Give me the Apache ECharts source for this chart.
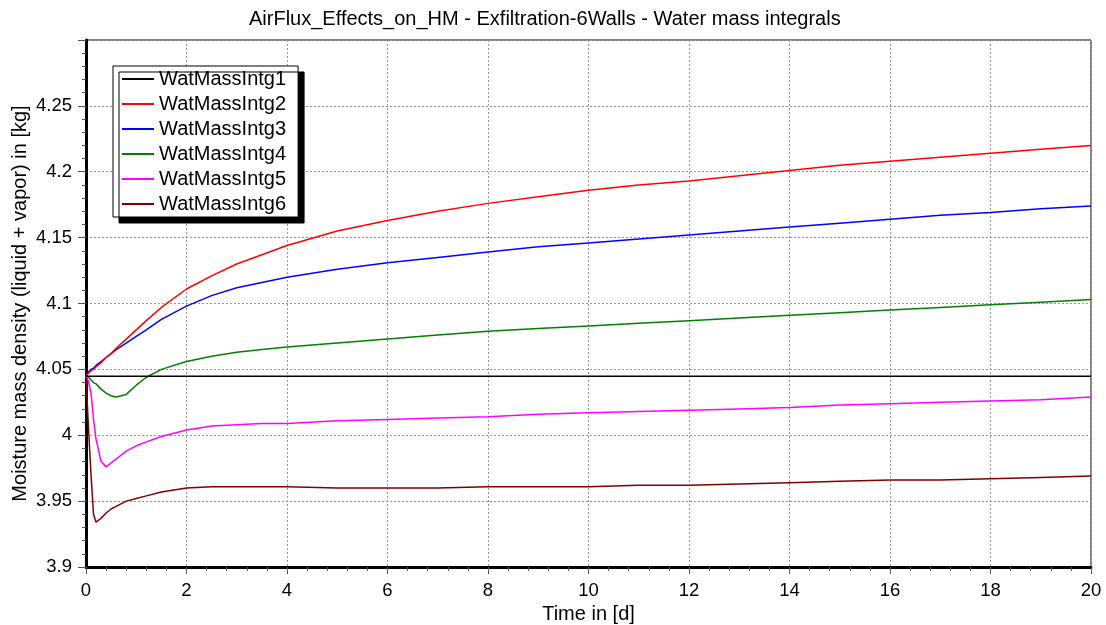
<!DOCTYPE html>
<html>
<head>
<meta charset="utf-8">
<title>Water mass integrals</title>
<script src="https://cdn.jsdelivr.net/npm/echarts@6/dist/echarts.min.js"></script>
<style>
  html, body { margin: 0; padding: 0; background: #fff; }
  #myChart { width: 1106px; height: 625px; }
</style>
</head>
<body>
<div id="myChart"></div>
<script>
// time in days
const times = [0, 0.05, 0.1, 0.15, 0.2, 0.3, 0.4, 0.5, 0.6, 0.8, 1, 1.2, 1.5, 2, 2.5, 3, 3.5, 4,
  5, 6, 7, 8, 9, 10, 11, 12, 13, 14, 15, 16, 17, 18, 19, 20]
// WatMassIntg1 is flat
const intg1Times = [0, 20]
const intg1 = [4.0447, 4.0447]
const intg2 = [4.045, 4.047, 4.049, 4.050, 4.052, 4.055, 4.059, 4.062, 4.066, 4.073, 4.080, 4.087,
  4.097, 4.111, 4.121, 4.130, 4.137, 4.144, 4.155, 4.163, 4.170, 4.176, 4.181, 4.186, 4.190, 4.193,
  4.197, 4.201, 4.205, 4.208, 4.211, 4.214, 4.217, 4.220]
const intg3 = [4.045, 4.048, 4.050, 4.051, 4.053, 4.056, 4.059, 4.062, 4.065, 4.070, 4.075, 4.080,
  4.088, 4.098, 4.106, 4.112, 4.116, 4.120, 4.126, 4.131, 4.135, 4.139, 4.143, 4.146, 4.149, 4.152,
  4.155, 4.158, 4.161, 4.164, 4.167, 4.169, 4.172, 4.174]
const intg4 = [4.045, 4.044, 4.042, 4.040, 4.039, 4.035, 4.032, 4.030, 4.029, 4.031, 4.038, 4.044,
  4.050, 4.056, 4.060, 4.063, 4.065, 4.067, 4.070, 4.073, 4.076, 4.079, 4.081, 4.083, 4.085, 4.087,
  4.089, 4.091, 4.093, 4.095, 4.097, 4.099, 4.101, 4.103]
const intg5 = [4.045, 4.041, 4.032, 4.012, 3.997, 3.980, 3.976, 3.979, 3.982, 3.988, 3.992, 3.995,
  3.999, 4.004, 4.007, 4.008, 4.009, 4.009, 4.011, 4.012, 4.013, 4.014, 4.016, 4.017, 4.018, 4.019,
  4.020, 4.021, 4.023, 4.024, 4.025, 4.026, 4.027, 4.029]
const intg6 = [4.045, 4.005, 3.970, 3.940, 3.934, 3.937, 3.941, 3.944, 3.946, 3.950, 3.952, 3.954,
  3.957, 3.960, 3.961, 3.961, 3.961, 3.961, 3.960, 3.960, 3.960, 3.961, 3.961, 3.961, 3.962, 3.962,
  3.963, 3.964, 3.965, 3.966, 3.966, 3.967, 3.968, 3.969]

const names = ['WatMassIntg1', 'WatMassIntg2', 'WatMassIntg3', 'WatMassIntg4', 'WatMassIntg5', 'WatMassIntg6']
const colors = ['#000000', '#ff0000', '#0000ff', '#008000', '#ff00ff', '#800000']

const font = "'Liberation Sans', Arial, sans-serif"
const pairs = (xs, ys) => xs.map((x, i) => [x, ys[i]])
const curves = [
  pairs(intg1Times, intg1),
  pairs(times, intg2),
  pairs(times, intg3),
  pairs(times, intg4),
  pairs(times, intg5),
  pairs(times, intg6),
]

const option = {
  animation: false,
  textStyle: { fontFamily: font },
  title: {
    text: 'AirFlux_Effects_on_HM - Exfiltration-6Walls - Water mass integrals',
    left: 244,
    top: 4,
    textStyle: { fontFamily: font, fontSize: 20, fontWeight: 'normal', color: '#000' },
  },
  legend: {
    orient: 'vertical',
    left: 113,
    top: 66,
    padding: [3, 12, 3, 9],
    itemGap: 5,
    itemWidth: 32,
    itemHeight: 2,
    icon: 'rect',
    backgroundColor: '#fff',
    borderColor: '#000',
    borderWidth: 1,
    shadowColor: '#000',
    shadowBlur: 0,
    shadowOffsetX: 6,
    shadowOffsetY: 6,
    textStyle: { fontFamily: font, fontSize: 20, color: '#000' },
    data: names,
  },
  grid: {
    left: 86,
    right: 15,
    top: 40,
    bottom: 58,
    containLabel: false,
    outerBoundsMode: 'none',
    show: true,
    borderColor: '#000',
    borderWidth: 1,
  },
  xAxis: {
    type: 'value',
    min: 0,
    max: 20,
    interval: 2,
    name: 'Time in [d]',
    nameLocation: 'middle',
    nameGap: 37,
    nameTextStyle: { fontFamily: font, fontSize: 20, color: '#000' },
    axisLine: { lineStyle: { color: '#000', width: 3 } },
    axisTick: { length: 7, lineStyle: { color: '#555' } },
    minorTick: { show: true, splitNumber: 5, length: 4, lineStyle: { color: '#555' } },
    axisLabel: { margin: 14, fontFamily: font, fontSize: 18.5, color: '#000' },
    splitLine: { show: true, lineStyle: { color: '#999', type: [2, 2] } },
  },
  yAxis: {
    type: 'value',
    min: 3.9,
    max: 4.3,
    interval: 0.05,
    name: 'Moisture mass density (liquid + vapor) in [kg]',
    nameLocation: 'middle',
    nameMoveOverlap: false,
    nameGap: 56,
    nameTextStyle: { fontFamily: font, fontSize: 20, color: '#000' },
    axisLine: { show: true, lineStyle: { color: '#000', width: 3 } },
    axisTick: { show: true, length: 8, lineStyle: { color: '#555' } },
    minorTick: { show: true, splitNumber: 5, length: 4, lineStyle: { color: '#555' } },
    axisLabel: {
      margin: 14,
      fontFamily: font,
      fontSize: 18.5,
      color: '#000',
      formatter: (v) => (v > 4.28 ? '' : String(+v.toFixed(2))),
    },
    splitLine: { show: true, lineStyle: { color: '#999', type: [2, 2] } },
  },
  series: curves.map((d, i) => ({
    name: names[i],
    type: 'line',
    data: d,
    symbol: 'none',
    color: colors[i],
    lineStyle: { color: colors[i], width: 1.5 },
    z: 10 - i,
  })),
}

const chart = echarts.init(document.getElementById('myChart'))
chart.setOption(option)
window.addEventListener('resize', () => {
  chart.resize()
})
</script>
</body>
</html>
